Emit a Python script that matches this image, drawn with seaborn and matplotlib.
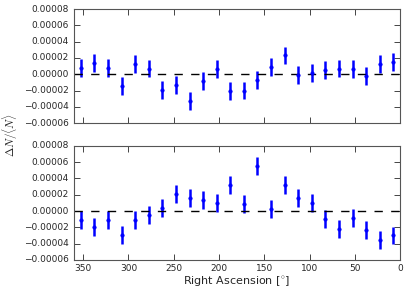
import seaborn as sns
import numpy as np
import pandas as pd
import matplotlib
matplotlib.use("Agg")
import matplotlib.pyplot as plt

# bin centres in right ascension (degrees)
ra = [352.5, 337.5, 322.5, 307.5, 292.5, 277.5, 262.5, 247.5, 232.5, 217.5, 202.5, 187.5,
      172.5, 157.5, 142.5, 127.5, 112.5, 97.5, 82.5, 67.5, 52.5, 37.5, 22.5, 7.5]

top_vals = [0.8e-5, 1.35e-5, 0.8e-5, -1.5e-5, 1.2e-5, 0.7e-5, -1.9e-5, -1.3e-5, -3.3e-5, -0.8e-5,
            0.6e-5, -2.1e-5, -2.0e-5, -0.7e-5, 0.9e-5, 2.3e-5, -0.1e-5, 0.15e-5, 0.5e-5, 0.7e-5,
            0.6e-5, -0.2e-5, 1.3e-5, 1.5e-5]
bottom_vals = [-1.15e-5, -2.0e-5, -1.1e-5, -2.9e-5, -1.05e-5, -0.45e-5, 0.4e-5, 2.05e-5, 1.6e-5, 1.3e-5,
               1.0e-5, 3.2e-5, 0.9e-5, 5.5e-5, 0.25e-5, 3.2e-5, 1.65e-5, 0.95e-5, -1.0e-5, -2.25e-5,
               -0.8e-5, -2.3e-5, -3.6e-5, -3.0e-5]
err = 1.1e-5

plt.style.use("classic")
sns.set_style("ticks", {"xtick.direction": "in", "ytick.direction": "in"})
plt.rcParams["font.family"] = ["DejaVu Sans"]

fig, axes = plt.subplots(2, 1, figsize=(4.07, 2.93), dpi=100, sharex=True)
fig.subplots_adjust(left=0.182, right=0.983, top=0.969, bottom=0.113, hspace=0.2)

for ax, vals in zip(axes, [top_vals, bottom_vals]):
    df = pd.DataFrame({"ra": ra, "val": vals})
    ax.errorbar(df["ra"], df["val"], yerr=err, fmt="none", ecolor="b", elinewidth=1.8, capsize=0)
    sns.scatterplot(data=df, x="ra", y="val", ax=ax, color="b", s=6, marker="o",
                    edgecolor="b", linewidth=0.5, zorder=3)
    ax.axhline(0, color="k", ls="--", lw=1)
    ax.set_xlim(360, 0)
    ax.set_ylim(-0.00006, 0.00008)
    ax.set_yticks(np.arange(-0.00006, 0.00008 + 1e-9, 0.00002))
    ax.set_yticklabels([f"{v:.5f}".replace("-", "\u2212") for v in np.arange(-0.00006, 0.00008 + 1e-9, 0.00002)])
    ax.set_xticks([350, 300, 250, 200, 150, 100, 50, 0])
    ax.tick_params(direction="in", labelsize=6.5, length=4, top=True, right=True, width=0.6)
    ax.tick_params(axis="x", pad=3)
    ax.set_xlabel("")
    ax.set_ylabel("")
    for sp in ax.spines.values():
        sp.set_linewidth(0.8)
        sp.set_color("#555555")

axes[1].set_xlabel(r"Right Ascension [$^{\circ}$]", fontsize=8, labelpad=1)
fig.text(0.025, 0.54, r"$\Delta N/\langle N\rangle$", rotation=90, fontsize=8, va="center", ha="center")

fig.savefig("out.png", dpi=100)
